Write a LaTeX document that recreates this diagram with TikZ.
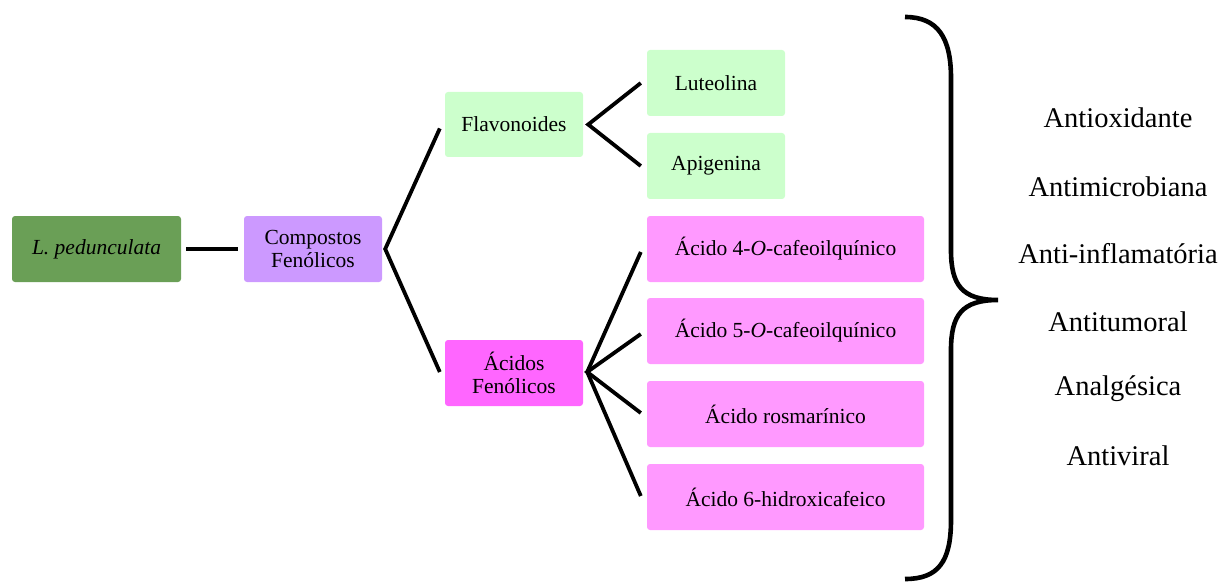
\documentclass[tikz,border=0pt]{standalone}
\usepackage{fontspec}
\setmainfont{Liberation Serif}
\usetikzlibrary{calc}
\definecolor{rootgreen}{RGB}{106,159,86}
\definecolor{lavender}{RGB}{204,153,255}
\definecolor{palegreen}{RGB}{204,255,204}
\definecolor{magentabox}{RGB}{255,102,255}
\definecolor{pinkbox}{RGB}{255,153,255}
\tikzset{
  box/.style={rounded corners=3pt, draw=none, align=center, inner sep=0pt,
              font=\fontsize{21.5}{23.5}\selectfont, text=black},
  link/.style={line width=3.8pt, line join=miter, line cap=butt},
  effect/.style={font=\fontsize{28.5}{32}\selectfont, anchor=center}
}
\begin{document}
\begin{tikzpicture}[x=1pt,y=-1pt]
\path[use as bounding box] (0,0) rectangle (1227,583);

% plant, class and subclass boxes
\node[box, fill=rootgreen, minimum width=169pt, minimum height=66pt] (lp) at (96.5,249) {\itshape L. pedunculata};
\node[box, fill=lavender, minimum width=138pt, minimum height=66pt] (cf) at (313,249) {Compostos\\Fenólicos};
\node[box, fill=palegreen, minimum width=138pt, minimum height=65pt] (fl) at (514,124.5) {Flavonoides};
\node[box, fill=magentabox, minimum width=138pt, minimum height=66pt] (af) at (514,373) {Ácidos\\Fenólicos};

% compounds
\node[box, fill=palegreen, minimum width=138pt, minimum height=66pt] (lu) at (716,83) {Luteolina};
\node[box, fill=palegreen, minimum width=138pt, minimum height=66pt] (ap) at (716,166) {Apigenina};
\node[box, fill=pinkbox, minimum width=277pt, minimum height=66pt] (a1) at (785.5,249) {Ácido 4-\textit{O}-cafeoilquínico};
\node[box, fill=pinkbox, minimum width=277pt, minimum height=66pt] (a2) at (785.5,331) {Ácido 5-\textit{O}-cafeoilquínico};
\node[box, fill=pinkbox, minimum width=277pt, minimum height=66pt] (a3) at (785.5,414) {Ácido rosmarínico};
\node[box, fill=pinkbox, minimum width=277pt, minimum height=66pt] (a4) at (785.5,497) {Ácido 6-hidroxicafeico};

% branching points
\coordinate (cfv) at ($(cf.east)+(3,0)$);
\coordinate (flv) at ($(fl.east)+(5,0)$);
\coordinate (afv) at ($(af.east)+(4,-1)$);

% connectors
\draw[link] ($(lp.east)+(5,0)$) -- ($(cf.west)+(-6,0)$);
\draw[link] ($(fl.west)+(-5,4)$) -- (cfv) -- ($(af.west)+(-5,-1)$);
\draw[link] ($(lu.west)+(-6,0)$) -- (flv) -- ($(ap.west)+(-6,0)$);
\draw[link] ($(a1.west)+(-6,3)$) -- (afv) -- ($(a4.west)+(-6,-1)$);
\draw[link] ($(a2.west)+(-6,3)$) -- (afv) -- ($(a3.west)+(-6,-1)$);

% brace
\draw[line width=4.6pt, line cap=butt]
  (905,17) .. controls (938,17) and (951,38) .. (951,78)
  -- (951,250) .. controls (951,285) and (962,300) .. (998,300)
  .. controls (962,300) and (951,315) .. (951,350)
  -- (951,520) .. controls (951,562) and (938,579) .. (905,579);

% activities
\node[effect] (e1) at (1118,118) {Antioxidante};
\node[effect] (e2) at (1118,187) {Antimicrobiana};
\node[effect] (e3) at (1118,254) {Anti-inflamatória};
\node[effect] (e4) at (1118,322) {Antitumoral};
\node[effect] (e5) at (1118,389) {Analgésica};
\node[effect] (e6) at (1118,456) {Antiviral};
\end{tikzpicture}
\end{document}
